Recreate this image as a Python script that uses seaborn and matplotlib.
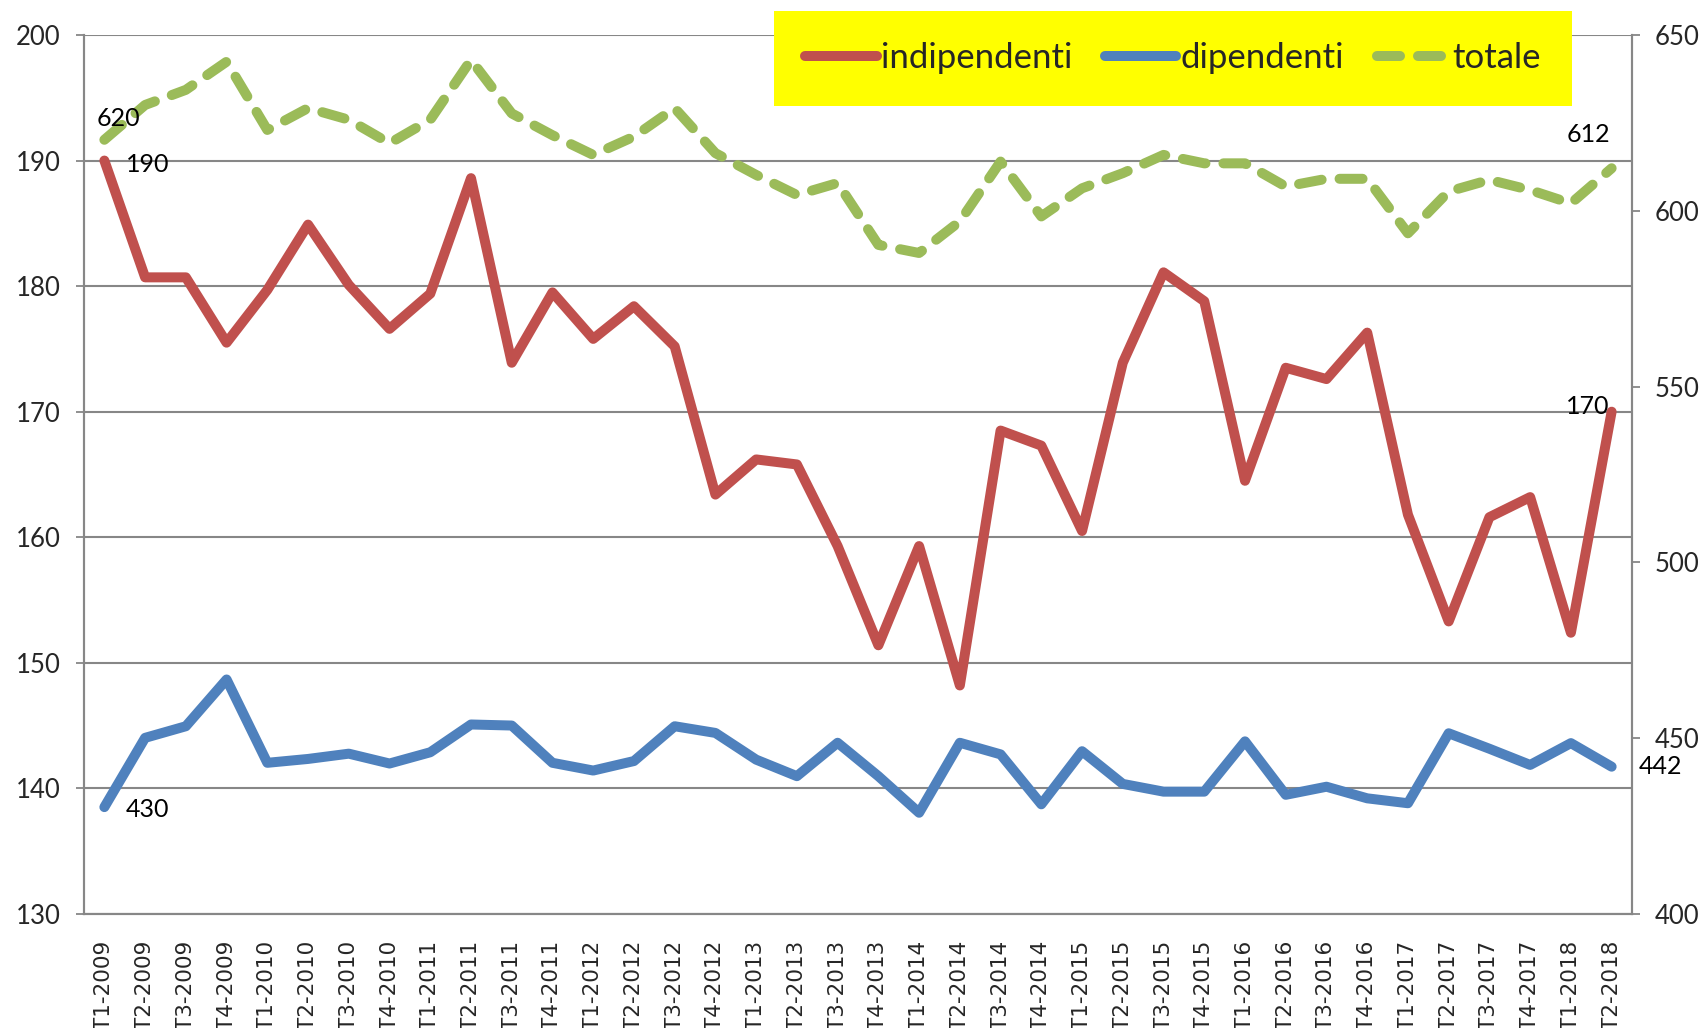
import numpy as np
import pandas as pd
import matplotlib
matplotlib.use("Agg")
import matplotlib.pyplot as plt
import seaborn as sns

# trimestri T1-2009 ... T2-2018
trimestri = [f"T{q}-{y}" for y in range(2009, 2019) for q in range(1, 5)][:38]

indipendenti = [190.0, 180.7, 180.7, 175.5, 179.7, 184.9, 180.1, 176.6, 179.4, 188.6,
                173.9, 179.5, 175.8, 178.4, 175.2, 163.4, 166.2, 165.8, 159.3, 151.4,
                159.3, 148.2, 168.5, 167.3, 160.5, 173.9, 181.1, 178.8, 164.5, 173.5,
                172.6, 176.3, 161.8, 153.3, 161.6, 163.2, 152.4, 170.0]

dipendenti = [430.4, 450.1, 453.4, 466.7, 443.0, 444.1, 445.6, 442.8, 446.0, 453.9,
              453.6, 443.0, 440.8, 443.5, 453.4, 451.5, 443.9, 439.2, 448.7, 439.2,
              428.8, 448.7, 445.4, 431.2, 446.3, 437.0, 434.8, 434.8, 449.1, 433.9,
              436.2, 432.9, 431.5, 451.4, 447.0, 442.4, 448.6, 441.9]

totale = [620.2, 630.1, 634.4, 642.4, 623.0, 629.2, 625.9, 619.2, 625.9, 642.9,
          627.7, 621.5, 615.9, 621.1, 629.2, 616.4, 610.2, 604.5, 607.9, 590.3,
          588.0, 597.0, 614.0, 598.4, 606.4, 610.7, 615.9, 613.5, 613.5, 606.9,
          609.1, 609.1, 593.6, 605.5, 608.8, 605.9, 602.1, 612.1]

RED = "#C0504D"
BLUE = "#4F81BD"
GREEN = "#9BBB59"
GRAY = "#878787"

df = pd.DataFrame({"pos": np.arange(len(trimestri)), "trimestre": trimestri,
                   "indipendenti": indipendenti, "dipendenti": dipendenti,
                   "totale": totale})

sns.set_style("white")
plt.rcParams['font.family'] = ['Lato', 'DejaVu Sans']

fig, ax = plt.subplots(figsize=(17.06, 10.28), dpi=100)
fig.subplots_adjust(left=84/1706, right=1632/1706, top=1-35/1028, bottom=1-914/1028)
ax2 = ax.twinx()

lw = 7.2
sns.lineplot(data=df, x="pos", y="indipendenti", ax=ax, color=RED, lw=lw,
             label="indipendenti", legend=False)
sns.lineplot(data=df, x="pos", y="dipendenti", ax=ax2, color=BLUE, lw=lw,
             label="dipendenti", legend=False)
sns.lineplot(data=df, x="pos", y="totale", ax=ax2, color=GREEN, lw=lw,
             label="totale", legend=False)

for line in ax.lines + ax2.lines:
    line.set_solid_capstyle("round")
    line.set_solid_joinstyle("round")
    line.set_dash_capstyle("round")
ax2.lines[-1].set_linestyle((0, (2.3, 1.8)))

# axes
ax.set_xlim(-0.5, len(trimestri) - 0.5)
ax.set_ylim(130, 200)
ax.set_yticks(np.arange(130, 201, 10))
ax2.set_ylim(400, 650)
ax2.set_yticks(np.arange(400, 651, 50))
ax.set_xlabel("")
ax.set_ylabel("")
ax2.set_ylabel("")

ax.set_xticks(df["pos"])
ax.set_xticklabels(trimestri, rotation=90, fontfamily="DejaVu Sans", fontsize=15.5)
ax.set_xticks(np.arange(-0.5, len(trimestri)), minor=True)
ax.tick_params(axis="x", which="major", length=0, pad=19)
ax.tick_params(axis="x", which="minor", length=6, width=1.3, color=GRAY, direction="out")
ax.tick_params(axis="y", length=6, width=1.3, color=GRAY, labelsize=18.5, pad=11,
               direction="out", left=True)
ax2.tick_params(axis="y", length=6, width=1.3, color=GRAY, labelsize=18.5, pad=10,
                direction="out", right=True)

ax.yaxis.grid(True, color=GRAY, lw=1.5)
ax.set_axisbelow(True)
for a in (ax, ax2):
    a.spines["top"].set_visible(False)
    for s in ("left", "right", "bottom"):
        a.spines[s].set_color(GRAY)
        a.spines[s].set_linewidth(1.5)

# etichette dati
def label(a, i, val, dx, dy):
    a.annotate(f"{val:.0f}", xy=(i, val), xytext=(dx, dy), textcoords="offset points",
               ha="center", va="center", fontsize=18, color="black")

last = len(trimestri) - 1
label(ax2, 0, totale[0], 10, 15)
label(ax, 0, indipendenti[0], 31, -3)
label(ax2, 0, dipendenti[0], 31, -1.5)
label(ax2, last, totale[-1], -17, 24)
label(ax, last, indipendenti[-1], -17, 3.5)
label(ax2, last, dipendenti[-1], 35, 0)

handles = ax.lines[:1] + ax2.lines[:2]
labels = ["indipendenti", "dipendenti", "totale"]
leg = ax2.legend(handles, labels, ncol=3, loc="upper right",
                 bbox_to_anchor=(1572/1706, 1 - 11/1028), bbox_transform=fig.transFigure,
                 frameon=True, facecolor="#FFFF00", edgecolor="none", framealpha=1,
                 fancybox=False, fontsize=25, handlelength=2.05, handletextpad=0.12,
                 columnspacing=0.95, borderpad=0.9, borderaxespad=0)

fig.savefig("out.png", dpi=100)
